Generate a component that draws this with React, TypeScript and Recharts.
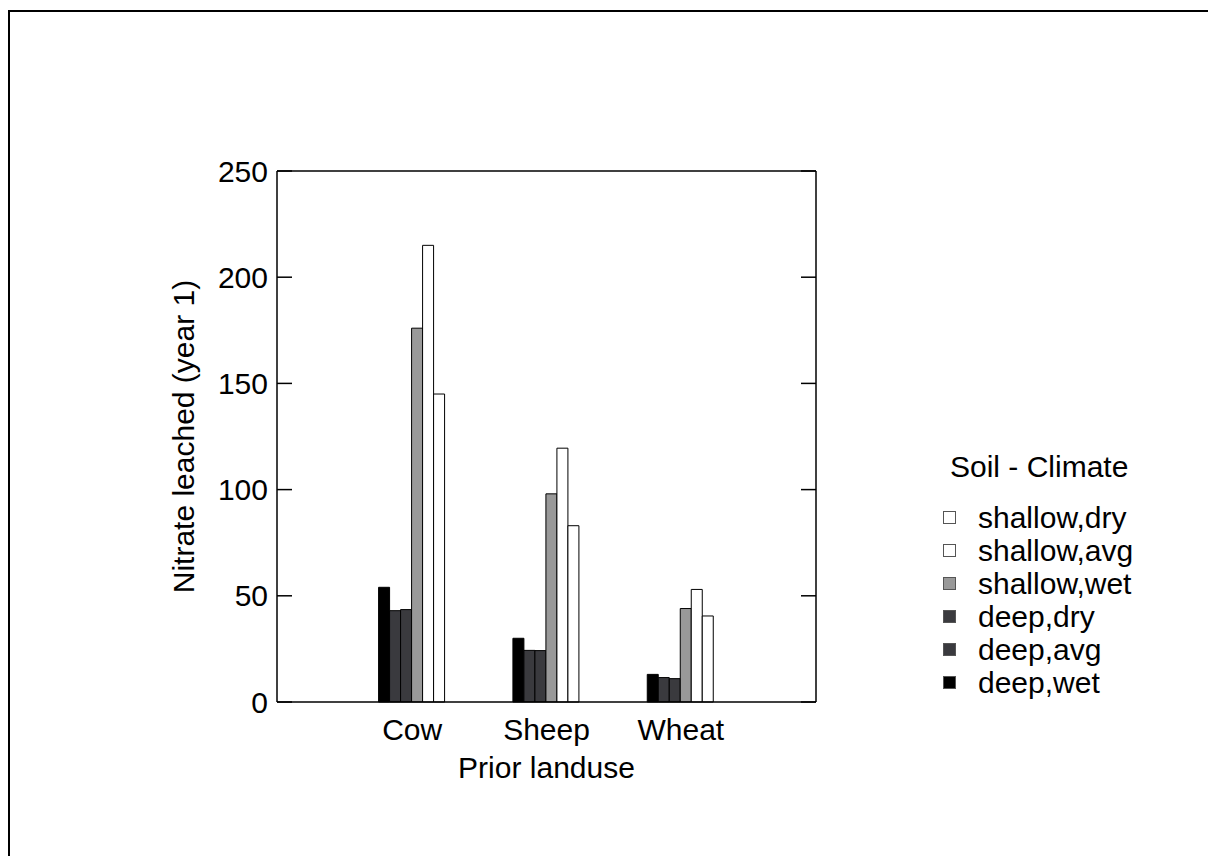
import React from "react";
import { BarChart, Bar, XAxis, YAxis, ReferenceLine, CartesianGrid, Label } from "recharts";

// values (Nitrate leached, year 1)
const categories = ["Cow", "Sheep", "Wheat"];
const deepWet = [54, 30, 13];
const deepAvg = [43, 24.3, 11.5];
const deepDry = [43.5, 24.2, 11];
const shallowWet = [176, 98, 44];
const shallowAvg = [215, 119.5, 53];
const shallowDry = [145, 83, 40.5];
const yTicks = [0, 50, 100, 150, 200, 250];

const series = [
  { key: "deepWet", name: "deep,wet", values: deepWet, fill: "#000000" },
  { key: "deepAvg", name: "deep,avg", values: deepAvg, fill: "#3a3a3e" },
  { key: "deepDry", name: "deep,dry", values: deepDry, fill: "#3a3a3e" },
  { key: "shallowWet", name: "shallow,wet", values: shallowWet, fill: "#999999" },
  { key: "shallowAvg", name: "shallow,avg", values: shallowAvg, fill: "#ffffff" },
  { key: "shallowDry", name: "shallow,dry", values: shallowDry, fill: "#ffffff" },
];

const data = categories.map((name, i) => {
  const row: any = { name };
  series.forEach((s) => (row[s.key] = s.values[i]));
  return row;
});

const FONT = "'Liberation Sans', Arial, sans-serif";
const FS = 30;
const PLOT_LEFT = 277;
const PLOT_RIGHT = 816;
const TICK_LEN = 15;

// inward tick on the left frame, drawn by a mirrored axis
function InTick(props: any) {
  const { x, y } = props;
  return <rect x={Number(x)} y={Number(y) - 0.75} width={TICK_LEN} height={1.5} fill="#000" stroke="none" />;
}

function Legendbox() {
  const items = [...series].reverse();
  return (
    <div
      style={{
        position: "absolute",
        left: 943,
        top: 447,
        fontFamily: FONT,
        fontSize: FS,
        color: "#000",
      }}
    >
      <div style={{ marginLeft: 7, height: 40, lineHeight: "40px" }}>Soil - Climate</div>
      <div style={{ height: 14 }} />
      {items.map((s) => (
        <div key={s.key} style={{ display: "flex", alignItems: "center", height: 33 }}>
          <div
            style={{
              width: 11,
              height: 11,
              background: s.fill,
              border: "1px solid #555",
              marginRight: 22,
            }}
          />
          <span style={{ lineHeight: "33px" }}>{s.name}</span>
        </div>
      ))}
    </div>
  );
}

export default function App() {
  return (
    <div
      style={{
        position: "fixed",
        left: 0,
        top: 0,
        width: 1208,
        height: 856,
        overflow: "hidden",
        background: "#fff",
      }}
    >
      {/* page frame, only top and left edges are in view */}
      <div style={{ position: "absolute", left: 8, top: 10, width: 1200, height: 2, background: "#000" }} />
      <div style={{ position: "absolute", left: 8, top: 10, width: 2, height: 846, background: "#000" }} />
      <div style={{ position: "absolute", left: 0, top: 0 }}>
        <BarChart
          width={1208}
          height={856}
          data={data}
          margin={{ top: 171, left: PLOT_LEFT - 70, right: 1208 - PLOT_RIGHT, bottom: 64 }}
          barCategoryGap="25%"
          barGap={0}
        >
          {/* inward tick marks on the right y axis */}
          <CartesianGrid
            yAxisId="left"
            vertical={false}
            x={PLOT_RIGHT - TICK_LEN}
            width={TICK_LEN}
            stroke="#000"
            strokeWidth={1.5}
          />
          <XAxis
            dataKey="name"
            padding={{ left: 68, right: 68 }}
            axisLine={{ stroke: "#000", strokeWidth: 1.5 }}
            tickLine={false}
            tickSize={0}
            tickMargin={17}
            height={90}
            tick={{ fill: "#000", fontSize: FS, fontFamily: FONT }}
            interval={0}
          >
            <Label
              value="Prior landuse"
              position="insideBottom"
              offset={14}
              fill="#000"
              fontSize={FS}
              fontFamily={FONT}
            />
          </XAxis>
          <YAxis
            yAxisId="left"
            domain={[0, 250]}
            ticks={yTicks}
            width={70}
            tickSize={0}
            tickMargin={9}
            tickLine={false}
            axisLine={{ stroke: "#000", strokeWidth: 1.5 }}
            tick={{ fill: "#000", fontSize: FS, fontFamily: FONT }}
            interval={0}
          >
            <Label
              value="Nitrate leached (year 1)"
              angle={-90}
              position="left"
              offset={24}
              fill="#000"
              fontSize={FS}
              fontFamily={FONT}
              style={{ textAnchor: "middle" }}
            />
          </YAxis>
          <YAxis
            yAxisId="leftIn"
            mirror
            domain={[0, 250]}
            ticks={yTicks}
            width={20}
            tickSize={0}
            tickMargin={0}
            tickLine={false}
            axisLine={false}
            tick={(p: any) => <InTick {...p} />}
            interval={0}
          />
          <YAxis
            yAxisId="right"
            orientation="right"
            mirror
            domain={[0, 250]}
            ticks={yTicks}
            width={20}
            tick={false}
            tickLine={false}
            axisLine={{ stroke: "#000", strokeWidth: 1.5 }}
            interval={0}
          />
          <ReferenceLine yAxisId="left" y={250} stroke="#000" strokeWidth={1.5} />
          {series.map((s) => (
            <Bar
              key={s.key}
              yAxisId="left"
              dataKey={s.key}
              name={s.name}
              fill={s.fill}
              stroke="#000"
              strokeWidth={1}
              isAnimationActive={false}
            />
          ))}
          <CartesianGrid
            yAxisId="left"
            vertical={false}
            x={PLOT_LEFT}
            width={TICK_LEN}
            stroke="#000"
            strokeWidth={1.5}
          />
        </BarChart>
      </div>
      <Legendbox />
    </div>
  );
}
